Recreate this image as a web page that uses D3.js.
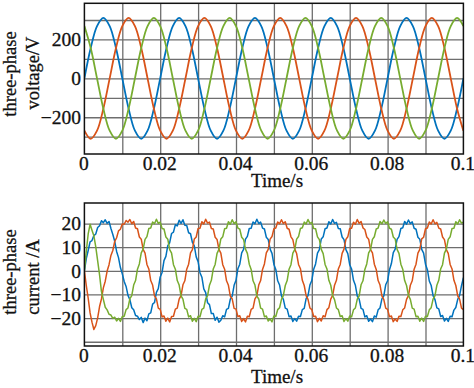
<!DOCTYPE html>
<html>
<head>
<meta charset="utf-8">
<script src="https://cdn.jsdelivr.net/npm/d3@7"></script>
<style>
  body { margin: 0; background: #fff; }
</style>
</head>
<body>
<svg id="chart" width="474" height="388"></svg>
<script>
// ---- data ----
var timeTicks = [0, 0.02, 0.04, 0.06, 0.08, 0.1];
var timeTickLabels = ["0", "0.02", "0.04", "0.06", "0.08", "0.1"];
var timeGrid = [0.01, 0.02, 0.03, 0.04, 0.05, 0.06, 0.07, 0.08, 0.09];

var voltTicks = [200, 0, -200];
var voltGrid = [-300, -200, -100, 0, 100, 200, 300];
var currTicks = [20, 10, 0, -10, -20];
var currGrid = [-30, -20, -10, 0, 10, 20];

// voltage sampled every 1/600 s (30 deg of 50 Hz)
var voltStep = 0.02 / 12;
var voltA = [0,156,269,311,269,156,0,-156,-269,-311,-269,-156,
             0,156,269,311,269,156,0,-156,-269,-311,-269,-156,
             0,156,269,311,269,156,0,-156,-269,-311,-269,-156,
             0,156,269,311,269,156,0,-156,-269,-311,-269,-156,
             0,156,269,311,269,156,0,-156,-269,-311,-269,-156, 0];
var voltB = [-269,-311,-269,-156,0,156,269,311,269,156,0,-156,
             -269,-311,-269,-156,0,156,269,311,269,156,0,-156,
             -269,-311,-269,-156,0,156,269,311,269,156,0,-156,
             -269,-311,-269,-156,0,156,269,311,269,156,0,-156,
             -269,-311,-269,-156,0,156,269,311,269,156,0,-156, -269];
var voltC = [269,156,0,-156,-269,-311,-269,-156,0,156,269,311,
             269,156,0,-156,-269,-311,-269,-156,0,156,269,311,
             269,156,0,-156,-269,-311,-269,-156,0,156,269,311,
             269,156,0,-156,-269,-311,-269,-156,0,156,269,311,
             269,156,0,-156,-269,-311,-269,-156,0,156,269,311, 269];

// current sampled every 0.5 ms
var currStep = 0.0005;
var currA = [0,5.2,8.6,12.3,12.8,14.9,15.6,18.3,19.1,21.2,
  20.4,21.6,20.1,20.9,17.9,15.4,12.5,8.2,5.6,1.4,
  -1.3,-4.5,-6.6,-10.4,-12.2,-15.6,-16.5,-18.9,-19.2,-20.6,
  -19.7,-21.9,-20.0,-21.1,-18.2,-17.8,-14.1,-13.4,-9.1,-7.5,
  -2.6,-0.7,4.3,6.1,10.7,11.9,15.8,16.4,19.5,19.0,
  21.4,20.1,21.6,19.3,19.2,16.1,15.7,12.0,10.6,5.9,
  3.9,-0.8,-2.7,-7.6,-9.2,-13.5,-14.3,-18.1,-18.0,-20.9,
  -19.6,-21.7,-20.9,-19.0,-19.5,-16.3,-15.9,-12.0,-10.7,-6.1,
  -4.0,0.9,2.8,7.6,9.1,13.4,14.6,17.9,18.0,20.7,
  19.9,21.8,20.0,20.6,18.1,17.7,14.2,13.3,9.2,7.4,
  2.7,0.6,-4.2,-6.0,-10.6,-12.1,-15.8,-16.2,-19.4,-19.1,
  -21.4,-20.2,-21.3,-19.2,-19.3,-16.4,-15.9,-11.8,-10.5,-6.0,
  -4.1,0.7,2.9,7.5,9.0,13.5,14.4,17.8,18.1,20.8,
  19.8,21.7,20.1,20.5,17.9,17.8,14.3,13.2,9.0,7.3,
  2.6,0.8,-4.0,-6.1,-10.7,-12.0,-15.9,-16.3,-19.5,-19.0,
  -21.3,-20.4,-21.5,-19.1,-19.6,-16.5,-15.7,-11.9,-10.6,-5.9,
  -4.2,0.5,3.1,7.7,9.2,13.3,14.5,17.9,18.2,20.9,
  19.7,21.5,20.0,20.7,18.0,17.6,14.2,13.4,9.1,7.5,
  2.8,0.5,-4.3,-6.2,-10.5,-12.2,-15.7,-16.1,-19.3,-18.9,
  -21.2,-20.1,-21.4,-19.2,-19.4,-16.6,-15.5,-12.1,-10.4,-6.3,
  -2.9];
var currB = [0,-6.2,-11.6,-17.8,-21.7,-24.8,-23.2,-19.9,-15.1,-11.9,
  -7.2,-4.4,-0.1,2.6,6.5,8.6,12.4,14.0,16.9,17.6,
  19.8,19.7,21.3,20.6,21.7,19.9,20.9,18.1,17.8,14.3,
  13.4,9.1,7.5,2.7,0.8,-4.1,-6.0,-10.6,-11.9,-15.8,
  -16.3,-19.5,-19.1,-21.3,-20.0,-21.6,-19.3,-19.2,-16.2,-15.8,
  -12.0,-10.5,-5.9,-4.2,0.7,2.8,7.6,9.0,13.5,14.3,
  17.9,18.0,20.8,19.8,21.8,20.2,20.6,17.9,17.7,14.2,
  13.3,9.1,7.5,2.6,0.7,-4.2,-6.1,-10.7,-11.9,-15.9,
  -16.2,-19.4,-19.0,-21.4,-20.2,-21.6,-19.2,-19.4,-16.3,-15.8,
  -11.9,-10.6,-6.0,-4.1,0.6,2.9,7.6,9.1,13.4,14.5,
  17.8,18.1,20.7,19.9,21.6,20.0,20.8,18.0,17.6,14.4,
  13.2,9.2,7.3,2.7,0.9,-4.0,-6.2,-10.5,-12.1,-15.7,
  -16.4,-19.3,-19.2,-21.5,-20.1,-21.2,-19.0,-19.5,-16.4,-15.6,
  -12.0,-10.4,-6.1,-4.0,0.8,2.7,7.4,9.2,13.3,14.4,
  17.9,18.0,20.6,19.7,21.7,20.1,20.9,18.2,17.5,14.3,
  13.4,9.0,7.6,2.8,0.6,-4.1,-6.0,-10.6,-12.2,-15.8,
  -16.3,-19.4,-19.1,-21.5,-20.3,-21.4,-19.2,-19.3,-16.5,-15.7,
  -12.1,-10.5,-6.1,-4.2,0.7,2.8,7.5,9.1,13.5,14.2,
  17.8,18.1,20.7,19.8,21.6,19.9,20.5,18.1,17.7,14.3,
  13.2,9.0,7.4,2.7,0.8,-4.0,-6.2,-10.6,-12.0,-15.8,
  -16.4];
var currC = [0,8.3,15.6,19.7,17.2,14.8,10.1,4.2,-1.7,-8.8,
  -12.1,-15.4,-16.5,-18.4,-18.7,-20.1,-19.6,-21.2,-20.1,-21.4,
  -19.3,-19.2,-16.4,-15.7,-11.8,-10.5,-6.0,-4.1,0.7,2.9,
  7.6,9.2,13.3,14.5,17.9,18.1,20.7,19.9,21.8,20.1,
  20.6,17.9,17.7,14.3,13.4,9.0,7.5,2.6,0.7,-4.1,
  -6.0,-10.6,-12.0,-15.9,-16.3,-19.5,-19.0,-21.3,-20.1,-21.5,
  -19.2,-19.4,-16.3,-15.8,-11.9,-10.5,-6.1,-4.0,0.8,2.7,
  7.4,9.1,13.5,14.4,17.8,18.0,20.8,19.7,21.6,20.0,
  20.7,18.1,17.6,14.2,13.3,9.2,7.4,2.8,0.6,-4.2,
  -6.0,-10.7,-11.9,-15.8,-16.2,-19.4,-19.1,-21.2,-20.3,-21.6,
  -19.1,-19.3,-16.4,-15.6,-12.1,-10.4,-6.2,-4.1,0.7,2.6,
  7.5,9.0,13.4,14.5,17.9,18.2,20.6,19.8,21.7,20.1,
  20.5,17.9,17.8,14.4,13.2,9.1,7.3,2.7,0.8,-4.0,
  -6.1,-10.5,-12.2,-15.7,-16.4,-19.3,-19.0,-21.4,-20.2,-21.3,
  -19.1,-19.5,-16.5,-15.7,-12.0,-10.6,-5.9,-4.2,0.6,2.9,
  7.6,9.0,13.3,14.4,17.7,18.1,20.9,19.9,21.5,20.1,
  20.7,18.0,17.6,14.3,13.5,9.1,7.4,2.8,0.7,-4.1,
  -6.2,-10.4,-12.1,-15.8,-16.2,-19.4,-19.2,-21.3,-20.0,-21.4,
  -19.2,-19.3,-16.5,-15.6,-12.0,-10.5,-6.1,-4.0,0.8,2.6,
  7.5,9.2,13.3,14.4,17.9,18.0,20.8,19.8,21.6,20.2,
  20.6];

var phaseColors = ["#0072bd", "#d95319", "#77ac30"];
var gridColor = "#6e6e6e";
var serif = "Liberation Serif";

var svg = d3.select("#chart");
var x = d3.scaleLinear().domain([0, 0.1]).range([84.4, 463.4]);

// serif text, a touch heavier like the scanned figure
function styleText(sel, size) {
  sel.attr("font-family", serif).attr("font-size", size)
    .attr("fill", "#111").attr("stroke", "#111").attr("stroke-width", 0.3);
}

function drawPanel(p) {
  var y = d3.scaleLinear().domain(p.yDomain).range([p.bottom, p.top]);
  var h = p.bottom - p.top;
  var g = svg.append("g");

  g.append("clipPath").attr("id", p.id + "-clip")
    .append("rect")
    .attr("x", x(0)).attr("y", p.top)
    .attr("width", x(0.1) - x(0)).attr("height", h);

  // grid
  g.append("g").attr("transform", "translate(0," + p.bottom + ")")
    .call(d3.axisBottom(x).tickValues(timeGrid).tickSize(-h).tickFormat(""))
    .call(function(s) { s.select(".domain").remove(); })
    .selectAll("line").attr("stroke", gridColor).attr("stroke-width", 1.3);
  g.append("g").attr("transform", "translate(" + x(0) + ",0)")
    .call(d3.axisLeft(y).tickValues(p.grid).tickSize(-(x(0.1) - x(0))).tickFormat(""))
    .call(function(s) { s.select(".domain").remove(); })
    .selectAll("line").attr("stroke", gridColor).attr("stroke-width", 1.3);

  // curves
  var line = d3.line()
    .x(function(d, i) { return x(i * p.step); })
    .y(function(d) { return y(d); })
    .curve(p.curve);
  g.append("g").attr("clip-path", "url(#" + p.id + "-clip)")
    .selectAll("path").data(p.series).join("path")
    .attr("d", line)
    .attr("fill", "none")
    .attr("stroke", function(d, i) { return phaseColors[i]; })
    .attr("stroke-width", p.lineWidth)
    .attr("stroke-linejoin", "round");

  // frame
  g.append("rect")
    .attr("x", x(0)).attr("y", p.top)
    .attr("width", x(0.1) - x(0)).attr("height", h)
    .attr("fill", "none").attr("stroke", "#111").attr("stroke-width", 1.5);

  // tick labels
  var xa = g.append("g").attr("transform", "translate(0," + p.bottom + ")")
    .call(d3.axisBottom(x).tickValues(timeTicks).tickSize(0).tickPadding(p.xPad)
      .tickFormat(function(d, i) { return timeTickLabels[i]; }));
  xa.select(".domain").remove();
  styleText(xa.selectAll("text").attr("dx", -1), 19.5);

  var ya = g.append("g").attr("transform", "translate(" + x(0) + ",0)")
    .call(d3.axisLeft(y).tickValues(p.ticks).tickSize(0).tickPadding(3.5));
  ya.select(".domain").remove();
  styleText(ya.selectAll("text"), 19.5);

  // axis titles
  styleText(g.append("text").attr("x", 277).attr("y", p.titleY)
    .attr("text-anchor", "middle").text("Time/s"), 19);
  p.yLabels.forEach(function(lab) {
    styleText(g.append("text")
      .attr("transform", "translate(" + lab.x + "," + lab.y + ") rotate(-90)")
      .attr("text-anchor", "middle").text(lab.text), 18.5);
  });
}

drawPanel({
  id: "volt", top: 3.3, bottom: 154, yDomain: [-389, 386],
  grid: voltGrid, ticks: voltTicks, step: voltStep,
  series: [voltA, voltB, voltC], curve: d3.curveCatmullRom, lineWidth: 1.8,
  xPad: 2.5, titleY: 186.5,
  yLabels: [{ text: "three-phase", x: 16, y: 74 }, { text: "voltage/V", x: 38.5, y: 73 }]
});

drawPanel({
  id: "curr", top: 203, bottom: 346, yDomain: [-31.8, 28.7],
  grid: currGrid, ticks: currTicks, step: currStep,
  series: [currA, currB, currC], curve: d3.curveLinear, lineWidth: 1.5,
  xPad: 2, titleY: 382.5,
  yLabels: [{ text: "three-phase", x: 16, y: 272 }, { text: "current /A", x: 38.5, y: 277 }]
});
</script>
</body>
</html>
